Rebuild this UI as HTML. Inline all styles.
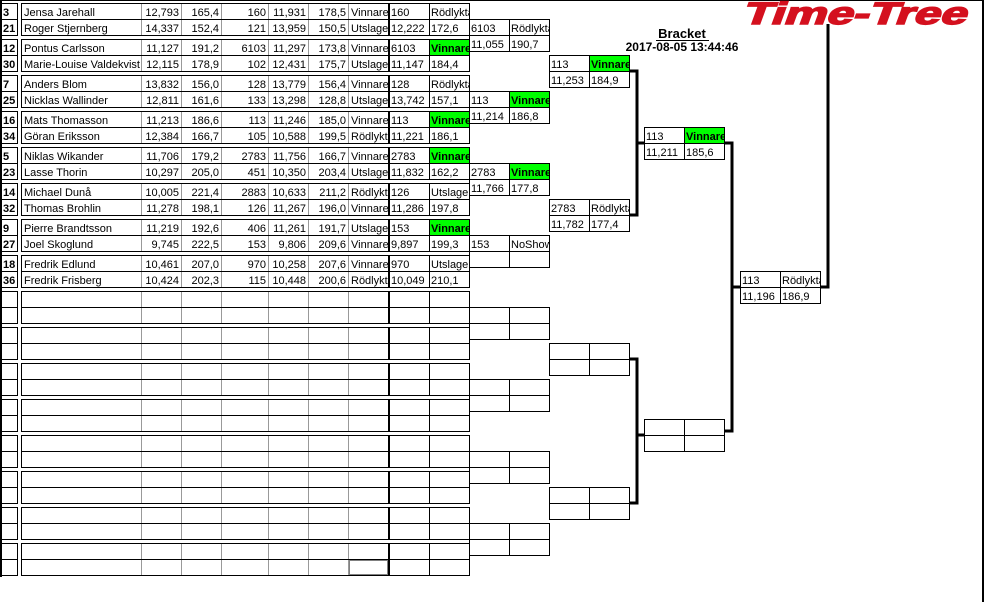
<!DOCTYPE html>
<html><head><meta charset="utf-8"><style>
html,body{margin:0;padding:0;background:#fff;width:984px;height:602px;overflow:hidden}
svg{display:block}
text{font-family:"Liberation Sans",Arial,sans-serif;font-size:11px;fill:#000}
.r{text-anchor:end}
.b{font-weight:bold}
.s{font-weight:bold;font-size:13px}
</style></head><body>
<svg width="984" height="602" viewBox="0 0 984 602" xmlns="http://www.w3.org/2000/svg" shape-rendering="crispEdges">
<defs>
<clipPath id="c6"><rect x="349" y="0" width="39" height="602"/></clipPath>
<clipPath id="c8"><rect x="430" y="0" width="39" height="602"/></clipPath>
<clipPath id="c10"><rect x="511" y="0" width="38" height="602"/></clipPath>
<clipPath id="c12"><rect x="591" y="0" width="38" height="602"/></clipPath>
<clipPath id="c14"><rect x="686" y="0" width="38" height="602"/></clipPath>
<clipPath id="c16"><rect x="782" y="0" width="38" height="602"/></clipPath>
<clipPath id="cn"><rect x="22" y="0" width="118" height="602"/></clipPath>
<g id="blk">
<rect x="1.5" y="0.5" width="16" height="32" fill="none" stroke="#000"/>
<line x1="1" y1="16.5" x2="18" y2="16.5" stroke="#000"/>
<line x1="1" y1="0" x2="1" y2="33" stroke="#000" stroke-width="2"/>
<line x1="141.5" y1="0" x2="141.5" y2="32" stroke="#999"/>
<line x1="181.5" y1="0" x2="181.5" y2="32" stroke="#999"/>
<line x1="221.5" y1="0" x2="221.5" y2="32" stroke="#999"/>
<line x1="268.5" y1="0" x2="268.5" y2="32" stroke="#999"/>
<line x1="308.5" y1="0" x2="308.5" y2="32" stroke="#999"/>
<line x1="348.5" y1="0" x2="348.5" y2="32" stroke="#999"/>
<rect x="21.5" y="0.5" width="448" height="32" fill="none" stroke="#000"/>
<line x1="21" y1="16.5" x2="470" y2="16.5" stroke="#000"/>
<line x1="389" y1="0" x2="389" y2="33" stroke="#000" stroke-width="2"/>
<line x1="429.5" y1="0" x2="429.5" y2="33" stroke="#000"/>
</g>
<g id="box">
<rect x="0.5" y="0.5" width="80" height="32" fill="none" stroke="#000"/>
<line x1="0" y1="16.5" x2="81" y2="16.5" stroke="#000"/>
<line x1="40.5" y1="0" x2="40.5" y2="33" stroke="#000"/>
</g>
</defs>

<line x1="0" y1="0.5" x2="984" y2="0.5" stroke="#000"/>
<line x1="983" y1="0" x2="983" y2="602" stroke="#000" stroke-width="2"/>
<line x1="1" y1="0" x2="1" y2="577" stroke="#000" stroke-width="2"/>

<rect x="430" y="40" width="40" height="15" fill="#00ff00"/>
<rect x="430" y="112" width="40" height="15" fill="#00ff00"/>
<rect x="430" y="148" width="40" height="15" fill="#00ff00"/>
<rect x="430" y="220" width="40" height="15" fill="#00ff00"/>
<rect x="510" y="92" width="40" height="15" fill="#00ff00"/>
<rect x="510" y="164" width="40" height="15" fill="#00ff00"/>
<rect x="590" y="56" width="40" height="15" fill="#00ff00"/>
<rect x="685" y="128" width="40" height="15" fill="#00ff00"/>

<use href="#blk" y="3"/><use href="#blk" y="39"/><use href="#blk" y="75"/><use href="#blk" y="111"/>
<use href="#blk" y="147"/><use href="#blk" y="183"/><use href="#blk" y="219"/><use href="#blk" y="255"/>
<use href="#blk" y="291"/><use href="#blk" y="327"/><use href="#blk" y="363"/><use href="#blk" y="399"/>
<use href="#blk" y="435"/><use href="#blk" y="471"/><use href="#blk" y="507"/><use href="#blk" y="543"/>
<rect x="349.5" y="560.5" width="38" height="14" fill="none" stroke="#000" stroke-dasharray="1,1"/>

<use href="#box" x="469" y="19"/><use href="#box" x="469" y="91"/><use href="#box" x="469" y="163"/><use href="#box" x="469" y="235"/>
<use href="#box" x="469" y="307"/><use href="#box" x="469" y="379"/><use href="#box" x="469" y="451"/><use href="#box" x="469" y="523"/>
<use href="#box" x="549" y="55"/><use href="#box" x="549" y="199"/><use href="#box" x="549" y="343"/><use href="#box" x="549" y="487"/>
<use href="#box" x="644" y="127"/><use href="#box" x="644" y="419"/>
<use href="#box" x="740" y="271"/>

<g stroke="#000" stroke-width="3" fill="none">
<polyline points="630,71 637,71 637,215 630,215"/>
<line x1="637" y1="143" x2="645" y2="143"/>
<polyline points="630,359 637,359 637,503 630,503"/>
<line x1="637" y1="435" x2="645" y2="435"/>
<polyline points="725,143 732,143 732,431 725,431"/>
<line x1="732" y1="287" x2="741" y2="287"/>
<polyline points="821,287 828,287 828,24"/>
</g>

<text x="742" y="24" transform="skewX(-20) translate(8,0)" shape-rendering="auto" style="font-size:31px;font-weight:bold;fill:#d4101e;stroke:#d4101e;stroke-width:1.6" textLength="224" lengthAdjust="spacingAndGlyphs">Time-Tree</text>
<text x="682" y="38" class="s" text-anchor="middle">Bracket</text>
<line x1="656" y1="40.5" x2="709" y2="40.5" stroke="#000"/>
<text x="682" y="51" class="b" text-anchor="middle" style="font-size:12px">2017-08-05 13:44:46</text>

<g>
<text x="3" y="16" class="b">3</text><text x="24" y="16">Jensa Jarehall</text><text x="179" y="16" class="r">12,793</text><text x="219" y="16" class="r">165,4</text><text x="266" y="16" class="r">160</text><text x="306" y="16" class="r">11,931</text><text x="346" y="16" class="r">178,5</text><text x="351" y="16" clip-path="url(#c6)">Vinnare</text><text x="391" y="16">160</text><text x="431" y="16" clip-path="url(#c8)">Rödlykta</text>
<text x="3" y="32" class="b">21</text><text x="24" y="32">Roger Stjernberg</text><text x="179" y="32" class="r">14,337</text><text x="219" y="32" class="r">152,4</text><text x="266" y="32" class="r">121</text><text x="306" y="32" class="r">13,959</text><text x="346" y="32" class="r">150,5</text><text x="351" y="32" clip-path="url(#c6)">Utslagen</text><text x="391" y="32">12,222</text><text x="431" y="32" clip-path="url(#c8)">172,6</text>

<text x="3" y="52" class="b">12</text><text x="24" y="52">Pontus Carlsson</text><text x="179" y="52" class="r">11,127</text><text x="219" y="52" class="r">191,2</text><text x="266" y="52" class="r">6103</text><text x="306" y="52" class="r">11,297</text><text x="346" y="52" class="r">173,8</text><text x="351" y="52" clip-path="url(#c6)">Vinnare</text><text x="391" y="52">6103</text><text x="431" y="52" class="b" clip-path="url(#c8)">Vinnare</text>
<text x="3" y="68" class="b">30</text><text x="24" y="68" clip-path="url(#cn)">Marie-Louise Valdekvist</text><text x="179" y="68" class="r">12,115</text><text x="219" y="68" class="r">178,9</text><text x="266" y="68" class="r">102</text><text x="306" y="68" class="r">12,431</text><text x="346" y="68" class="r">175,7</text><text x="351" y="68" clip-path="url(#c6)">Utslagen</text><text x="391" y="68">11,147</text><text x="431" y="68" clip-path="url(#c8)">184,4</text>

<text x="3" y="88" class="b">7</text><text x="24" y="88">Anders Blom</text><text x="179" y="88" class="r">13,832</text><text x="219" y="88" class="r">156,0</text><text x="266" y="88" class="r">128</text><text x="306" y="88" class="r">13,779</text><text x="346" y="88" class="r">156,4</text><text x="351" y="88" clip-path="url(#c6)">Vinnare</text><text x="391" y="88">128</text><text x="431" y="88" clip-path="url(#c8)">Rödlykta</text>
<text x="3" y="104" class="b">25</text><text x="24" y="104">Nicklas Wallinder</text><text x="179" y="104" class="r">12,811</text><text x="219" y="104" class="r">161,6</text><text x="266" y="104" class="r">133</text><text x="306" y="104" class="r">13,298</text><text x="346" y="104" class="r">128,8</text><text x="351" y="104" clip-path="url(#c6)">Utslagen</text><text x="391" y="104">13,742</text><text x="431" y="104" clip-path="url(#c8)">157,1</text>

<text x="3" y="124" class="b">16</text><text x="24" y="124">Mats Thomasson</text><text x="179" y="124" class="r">11,213</text><text x="219" y="124" class="r">186,6</text><text x="266" y="124" class="r">113</text><text x="306" y="124" class="r">11,246</text><text x="346" y="124" class="r">185,0</text><text x="351" y="124" clip-path="url(#c6)">Vinnare</text><text x="391" y="124">113</text><text x="431" y="124" class="b" clip-path="url(#c8)">Vinnare</text>
<text x="3" y="140" class="b">34</text><text x="24" y="140">Göran Eriksson</text><text x="179" y="140" class="r">12,384</text><text x="219" y="140" class="r">166,7</text><text x="266" y="140" class="r">105</text><text x="306" y="140" class="r">10,588</text><text x="346" y="140" class="r">199,5</text><text x="351" y="140" clip-path="url(#c6)">Rödlykta</text><text x="391" y="140">11,221</text><text x="431" y="140" clip-path="url(#c8)">186,1</text>

<text x="3" y="160" class="b">5</text><text x="24" y="160">Niklas Wikander</text><text x="179" y="160" class="r">11,706</text><text x="219" y="160" class="r">179,2</text><text x="266" y="160" class="r">2783</text><text x="306" y="160" class="r">11,756</text><text x="346" y="160" class="r">166,7</text><text x="351" y="160" clip-path="url(#c6)">Vinnare</text><text x="391" y="160">2783</text><text x="431" y="160" class="b" clip-path="url(#c8)">Vinnare</text>
<text x="3" y="176" class="b">23</text><text x="24" y="176">Lasse Thorin</text><text x="179" y="176" class="r">10,297</text><text x="219" y="176" class="r">205,0</text><text x="266" y="176" class="r">451</text><text x="306" y="176" class="r">10,350</text><text x="346" y="176" class="r">203,4</text><text x="351" y="176" clip-path="url(#c6)">Utslagen</text><text x="391" y="176">11,832</text><text x="431" y="176" clip-path="url(#c8)">162,2</text>

<text x="3" y="196" class="b">14</text><text x="24" y="196">Michael Dunå</text><text x="179" y="196" class="r">10,005</text><text x="219" y="196" class="r">221,4</text><text x="266" y="196" class="r">2883</text><text x="306" y="196" class="r">10,633</text><text x="346" y="196" class="r">211,2</text><text x="351" y="196" clip-path="url(#c6)">Rödlykta</text><text x="391" y="196">126</text><text x="431" y="196" clip-path="url(#c8)">Utslagen</text>
<text x="3" y="212" class="b">32</text><text x="24" y="212">Thomas Brohlin</text><text x="179" y="212" class="r">11,278</text><text x="219" y="212" class="r">198,1</text><text x="266" y="212" class="r">126</text><text x="306" y="212" class="r">11,267</text><text x="346" y="212" class="r">196,0</text><text x="351" y="212" clip-path="url(#c6)">Vinnare</text><text x="391" y="212">11,286</text><text x="431" y="212" clip-path="url(#c8)">197,8</text>

<text x="3" y="232" class="b">9</text><text x="24" y="232">Pierre Brandtsson</text><text x="179" y="232" class="r">11,219</text><text x="219" y="232" class="r">192,6</text><text x="266" y="232" class="r">406</text><text x="306" y="232" class="r">11,261</text><text x="346" y="232" class="r">191,7</text><text x="351" y="232" clip-path="url(#c6)">Utslagen</text><text x="391" y="232">153</text><text x="431" y="232" class="b" clip-path="url(#c8)">Vinnare</text>
<text x="3" y="248" class="b">27</text><text x="24" y="248">Joel Skoglund</text><text x="179" y="248" class="r">9,745</text><text x="219" y="248" class="r">222,5</text><text x="266" y="248" class="r">153</text><text x="306" y="248" class="r">9,806</text><text x="346" y="248" class="r">209,6</text><text x="351" y="248" clip-path="url(#c6)">Vinnare</text><text x="391" y="248">9,897</text><text x="431" y="248" clip-path="url(#c8)">199,3</text>

<text x="3" y="268" class="b">18</text><text x="24" y="268">Fredrik Edlund</text><text x="179" y="268" class="r">10,461</text><text x="219" y="268" class="r">207,0</text><text x="266" y="268" class="r">970</text><text x="306" y="268" class="r">10,258</text><text x="346" y="268" class="r">207,6</text><text x="351" y="268" clip-path="url(#c6)">Vinnare</text><text x="391" y="268">970</text><text x="431" y="268" clip-path="url(#c8)">Utslagen</text>
<text x="3" y="284" class="b">36</text><text x="24" y="284">Fredrik Frisberg</text><text x="179" y="284" class="r">10,424</text><text x="219" y="284" class="r">202,3</text><text x="266" y="284" class="r">115</text><text x="306" y="284" class="r">10,448</text><text x="346" y="284" class="r">200,6</text><text x="351" y="284" clip-path="url(#c6)">Rödlykta</text><text x="391" y="284">10,049</text><text x="431" y="284" clip-path="url(#c8)">210,1</text>
</g>

<text x="471" y="32">6103</text><text x="511" y="32" clip-path="url(#c10)">Rödlykta</text>
<text x="471" y="48">11,055</text><text x="511" y="48">190,7</text>
<text x="471" y="104">113</text><text x="511" y="104" class="b" clip-path="url(#c10)">Vinnare</text>
<text x="471" y="120">11,214</text><text x="511" y="120">186,8</text>
<text x="471" y="176">2783</text><text x="511" y="176" class="b" clip-path="url(#c10)">Vinnare</text>
<text x="471" y="192">11,766</text><text x="511" y="192">177,8</text>
<text x="471" y="248">153</text><text x="511" y="248" clip-path="url(#c10)">NoShow</text>

<text x="551" y="68">113</text><text x="591" y="68" class="b" clip-path="url(#c12)">Vinnare</text>
<text x="551" y="84">11,253</text><text x="591" y="84">184,9</text>
<text x="551" y="212">2783</text><text x="591" y="212" clip-path="url(#c12)">Rödlykta</text>
<text x="551" y="228">11,782</text><text x="591" y="228">177,4</text>

<text x="646" y="140">113</text><text x="686" y="140" class="b" clip-path="url(#c14)">Vinnare</text>
<text x="646" y="156">11,211</text><text x="686" y="156">185,6</text>

<text x="742" y="284">113</text><text x="782" y="284" clip-path="url(#c16)">Rödlykta</text>
<text x="742" y="300">11,196</text><text x="782" y="300">186,9</text>
</svg>
</body></html>
